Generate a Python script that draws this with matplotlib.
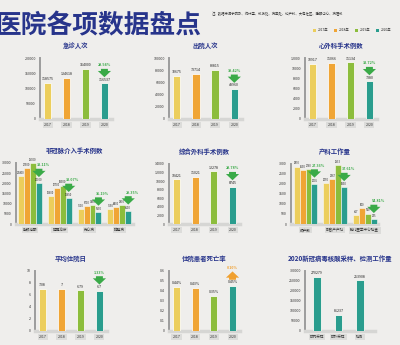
import numpy as np
import matplotlib
matplotlib.use('Agg')
import matplotlib.pyplot as plt
from matplotlib.transforms import offset_copy

plt.rcParams['font.family'] = ['Noto Sans CJK SC', 'DejaVu Sans']

# ---- данные ----
years = ['2017', '2018', '2019', '2020']

er_visits = [118575, 134618, 164000, 116537]
er_change = '28.94%'

discharges = [70675, 73714, 80815, 48960]
discharge_change = '39.42%'

cardiac_surg = [10917, 11066, 11134, 7380]
cardiac_change = '33.72%'

nc_cats = ['射频消融', '起搏治疗', '先心病', '瓣膜病']
nc_2017 = [23400, 13600, 7500, 7550]
nc_2018 = [27500, 17700, 8700, 8400]
nc_2019 = [29900, 18900, 9150, 9200]
nc_2020 = [20000, 12650, 5930, 6500]
nc_change = ['33.11%', '33.07%', '35.19%', '29.35%']

general_surg = [10421, 11021, 12278, 8745]
general_change = '28.78%'

ob_cats = ['顺产数', '剖宫产产妇', '胎儿医学中心检查']
ob_2017 = [2870, 2050, 467]
ob_2018 = [2690, 2267, 800]
ob_2019 = [2760, 2933, 520]
ob_2020 = [2005, 1830, 235]
ob_change = ['27.36%', '37.61%', '54.81%']

avg_stay = [7.08, 7, 6.79, 6.7]
stay_change = '1.33%'

mortality = [0.44, 0.43, 0.35, 0.45]
mortality_change = '0.10%'

covid_cats = ['院内采样', '院外采样', '检测']
covid_work = [270279, 81237, 253908]

COLORS = ['#ecce5c', '#f0a535', '#8cbd3c', '#2a9d8e']
NAVY = '#27348b'
GREEN = '#3aaa48'
ORANGE = '#f0a030'
BG = '#efeeec'

W, H = 400, 345
fig = plt.figure(figsize=(W / 100, H / 100), dpi=100, facecolor=BG)


def px_axes(l, t, r, b):
    return fig.add_axes([l / W, 1 - b / H, (r - l) / W, (b - t) / H])


def style_axes(ax, ymax, step, title, fmt=lambda v: f'{v:g}'):
    ax.set_facecolor('none')
    ax.set_ylim(0, ymax)
    ticks = np.arange(0, ymax + step / 2, step)
    ax.set_yticks(ticks)
    ax.set_yticklabels([fmt(t) for t in ticks])
    for s in ['top', 'right']:
        ax.spines[s].set_visible(False)
    ax.spines['left'].set_color('#9c9c9c')
    ax.spines['left'].set_linewidth(1.4)
    ax.spines['bottom'].set_color('#d6d6d4')
    ax.spines['bottom'].set_linewidth(2.5)
    ax.tick_params(length=0, labelsize=2.6, colors='#333333', pad=3)
    ax.set_title(title, fontsize=4.6, color=NAVY, fontweight='bold', pad=7)


def change_mark(ax, x, v, text, down=True, dx=0):
    col = GREEN if down else ORANGE
    head = offset_copy(ax.transData, fig=fig, x=0, y=(4.5 if down else 10.5), units='points')
    tail = offset_copy(ax.transData, fig=fig, x=0, y=(10.5 if down else 4.5), units='points')
    ax.annotate('', xy=(x, v), xycoords=head, xytext=(x, v), textcoords=tail,
                arrowprops=dict(arrowstyle='simple,head_length=0.45,head_width=0.95,tail_width=0.5',
                                color=col, lw=0, shrinkA=0, shrinkB=0, mutation_scale=10),
                annotation_clip=False, zorder=5)
    ax.annotate(text, (x, v), xytext=(dx, 13), textcoords='offset points',
                ha='center', va='center', fontsize=2.6, color=col, fontweight='bold',
                annotation_clip=False, zorder=5)


def year_panel(rect, vals, ymax, step, title, change, down=True, labels=None, fmt=lambda v: f'{v:g}'):
    ax = px_axes(*rect)
    x = np.arange(len(vals))
    ax.bar(x, vals, width=0.38, color=COLORS, edgecolor='#fbfaf5', linewidth=0.6, zorder=3)
    for xi, v, lab in zip(x, vals, labels or [f'{v:g}' for v in vals]):
        ax.annotate(lab, (xi, v), xytext=(0, 1.2), textcoords='offset points',
                    ha='center', va='bottom', fontsize=2.6, color='#222222')
    change_mark(ax, x[-1], vals[-1], change, down)
    ax.set_xlim(-0.4, len(vals) - 0.6)
    ax.set_xticks(x)
    ax.set_xticklabels(years)
    style_axes(ax, ymax, step, title, fmt)
    for t in ax.get_xticklabels():
        t.set_bbox(dict(facecolor='#dcdcda', edgecolor='none', pad=0.8))
    return ax


def group_panel(rect, series, cats, ymax, step, title, changes, xlim):
    ax = px_axes(*rect)
    x = np.arange(len(cats))
    w = 0.2
    for i, vals in enumerate(series):
        xs = x + (i - 1.5) * w
        ax.bar(xs, vals, width=w, color=COLORS[i], edgecolor='#fbfaf5', linewidth=0.4, zorder=3)
        for xi, v in zip(xs, vals):
            ax.annotate(f'{v}', (xi, v), xytext=(0, 0.8), textcoords='offset points',
                        ha='center', va='bottom', fontsize=1.9, color='#222222')
    for xi, v, c in zip(x + 1.5 * w, series[-1], changes):
        change_mark(ax, xi, v, c, dx=3)
    ax.set_xlim(*xlim)
    ax.set_xticks(x)
    ax.set_xticklabels(cats)
    style_axes(ax, ymax, step, title)
    for t in ax.get_xticklabels():
        t.set_bbox(dict(facecolor='#dcdcda', edgecolor='none', pad=0.8))
    return ax


# ---- шапка ----
fig.text(-0.01, 0.965, '医院各项数据盘点', fontsize=18.5, fontweight='bold', color=NAVY,
         ha='left', va='top')
fig.text(212 / W, 1 - 14 / H, '注：数据来源于院办、统计室、科技处、病案处、妇产科、大包社区、睡眠中心、病理科',
         fontsize=2.4, color='#333333', ha='left', va='center')
leg_x = [313, 334, 355, 376]
for lx, yr, c in zip(leg_x, years, COLORS):
    fig.patches.append(plt.Rectangle((lx / W, 1 - 32 / H), 3 / W, 3.5 / H, transform=fig.transFigure,
                                     facecolor=c, edgecolor='none'))
    fig.text((lx + 4.5) / W, 1 - 30 / H, yr + '年', fontsize=2.4, color='#333333', va='center')

# ---- ряд 1 ----
year_panel((40, 58, 112, 119), er_visits, 200000, 50000, '急诊人次', er_change)
year_panel((169, 58, 242, 119), discharges, 100000, 20000, '出院人次', discharge_change)
year_panel((305, 58, 377, 119), cardiac_surg, 12000, 2000, '心外科手术例数', cardiac_change)

# ---- ряд 2 ----
group_panel((16, 163, 133, 224), [nc_2017, nc_2018, nc_2019, nc_2020], nc_cats,
            30000, 5000, '非冠脉介入手术例数', nc_change, (-0.47, 3.46))
year_panel((169, 164, 240, 224), general_surg, 14000, 2000, '综合外科手术例数', general_change)
group_panel((291, 164, 378, 224), [ob_2017, ob_2018, ob_2019, ob_2020], ob_cats,
            3000, 500, '产科工作量', ob_change, (-0.49, 2.44))

# ---- ряд 3 ----
year_panel((35, 271, 107, 331), avg_stay, 10, 2, '平均住院日', stay_change)
year_panel((169, 271, 240, 331), mortality, 0.6, 0.1, '住院患者死亡率', mortality_change,
           down=False, labels=[f'{v:.2f}%' for v in mortality])

ax9 = px_axes(305, 271, 375, 331)
xc = np.arange(len(covid_cats))
ax9.bar(xc, covid_work, width=0.33, color=COLORS[3], edgecolor='#fbfaf5', linewidth=0.6, zorder=3)
for xi, v in zip(xc, covid_work):
    ax9.annotate(f'{v}', (xi, v), xytext=(0, 1.2), textcoords='offset points',
                 ha='center', va='bottom', fontsize=2.6, color='#222222')
ax9.set_xlim(-0.56, 2.7)
ax9.set_xticks(xc)
ax9.set_xticklabels(covid_cats)
style_axes(ax9, 300000, 50000, '2020新冠病毒核酸采样、检测工作量')
for t in ax9.get_xticklabels():
    t.set_bbox(dict(facecolor='#dcdcda', edgecolor='none', pad=0.8))

fig.savefig('out.png', dpi=100, facecolor=BG)
